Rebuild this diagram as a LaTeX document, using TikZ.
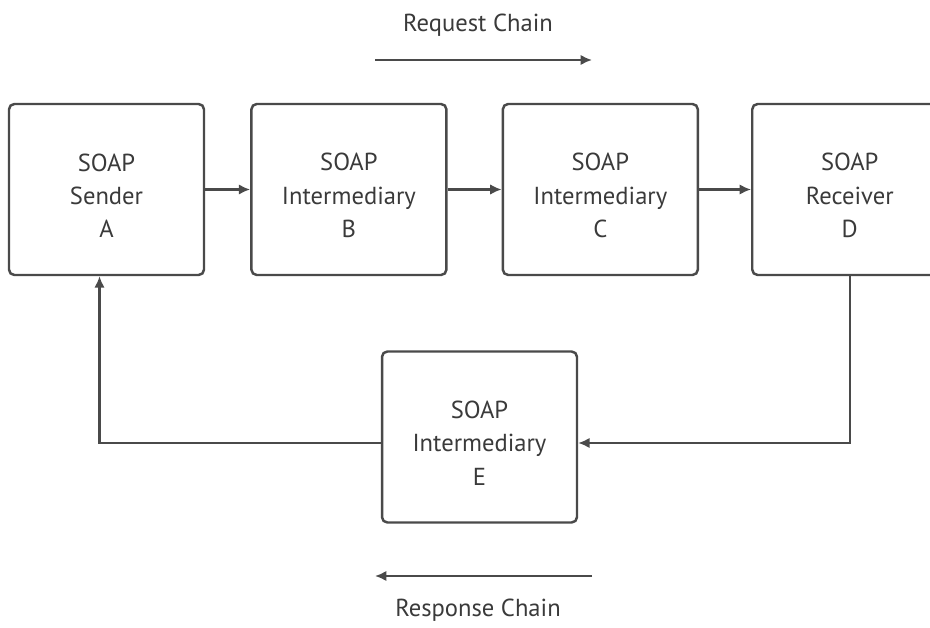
\documentclass[tikz,border=0pt]{standalone}
\usepackage{fontspec}
\setmainfont{PT Sans}
\usepackage{tikz}
\usetikzlibrary{arrows.meta, positioning, calc}
\definecolor{soapline}{HTML}{4a4a4a}
\definecolor{soaptext}{HTML}{3a3a3a}
\newcommand{\soaptop}{\rule{0pt}{17pt}}

\begin{document}
\begin{tikzpicture}[
  x=0.02cm, y=-0.02cm,
  soap/.style={rectangle, rounded corners=3pt, draw=soapline, line width=1.4pt,
    minimum width=3.9cm, minimum height=3.42cm, align=center,
    font=\fontsize{14}{19}\selectfont, text=soaptext},
  arr/.style={-{Latex[length=6.5pt,width=6pt]}, line width=1.3pt, soapline},
  chain/.style={font=\fontsize{14}{16}\selectfont, text=soaptext}
]
\clip (0,0) rectangle (930,628);

\node[soap] (A) at (106.5,189.5) {\soaptop SOAP\\Sender\\A};
\node[soap, right=0.9cm of A] (B) {\soaptop SOAP\\Intermediary\\B};
\node[soap, right=1.08cm of B] (C) {\soaptop SOAP\\Intermediary\\C};
\node[soap, right=1.04cm of C] (D) {\soaptop SOAP\\Receiver\\D};
\node[soap] (E) at (479.5,437) {\soaptop SOAP\\Intermediary\\E};

% request side
\draw[arr] (A) -- (B);
\draw[arr] (B) -- (C);
\draw[arr] (C) -- (D);

% response side
\draw[arr] (D.south) |- ([yshift=-0.12cm]E.east);
\draw[arr] ([yshift=-0.12cm]E.west) -| ($(A.south)+(-7,0)$);

% chain labels
\node[chain] (req) at (478,25) {Request Chain};
\coordinate (reqs) at (375,60);
\coordinate (reqe) at (592,60);
\draw[arr] (reqs) -- (reqe);

\node[chain] (resp) at (478,610) {Response Chain};
\coordinate (resps) at (592,576);
\coordinate (respe) at (375,576);
\draw[arr] (resps) -- (respe);
\end{tikzpicture}
\end{document}
